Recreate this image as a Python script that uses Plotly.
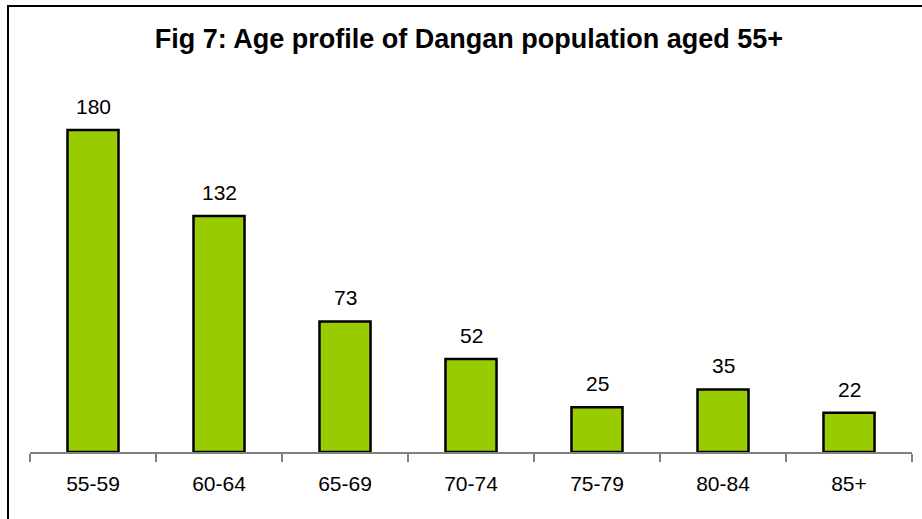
import plotly.graph_objects as go

categories = ["55-59", "60-64", "65-69", "70-74", "75-79", "80-84", "85+"]
values = [180, 132, 73, 52, 25, 35, 22]
title_text = "Fig 7: Age profile of Dangan population aged 55+"

FONT = "Liberation Sans, Arial"

fig = go.Figure()
fig.add_trace(go.Bar(
    x=categories, y=values,
    marker=dict(color="#99CC00", line=dict(color="black", width=2.5)),
    width=0.405,
    hoverinfo="skip",
))

for c, v in zip(categories, values):
    fig.add_annotation(x=c, y=v, text=str(v), showarrow=False,
                       yanchor="bottom", yshift=10,
                       font=dict(family=FONT, size=21, color="black"))

W, H = 922, 519
L, R, T, B = 30, 10, 80, 67
pw = W - L - R
ph = H - T - B

def px_x(x):
    return (x - L) / pw

def px_y(y):
    return (H - B - y) / ph

fig.add_shape(type="rect", xref="paper", yref="paper",
              x0=px_x(8), x1=px_x(930), y0=px_y(530), y1=px_y(6),
              line=dict(color="black", width=2), layer="below")

fig.update_layout(
    width=W, height=H,
    margin=dict(l=L, r=R, t=T, b=B),
    paper_bgcolor="white", plot_bgcolor="white",
    showlegend=False,
    title=dict(text="<b>" + title_text + "</b>", x=469 / W, xanchor="center",
               y=1 - 39 / H, yanchor="middle",
               font=dict(family=FONT, size=27, color="black")),
    xaxis=dict(showline=True, linecolor="#808080", linewidth=2,
               ticks="outside", tickson="boundaries", ticklen=8,
               tickcolor="#808080", tickwidth=1.5,
               ticklabelstandoff=12,
               tickfont=dict(family=FONT, size=21, color="black"),
               showgrid=False, fixedrange=True),
    yaxis=dict(range=[0, 208], visible=False, showgrid=False, fixedrange=True),
    bargap=0.595,
)

fig.write_html("out.html", config={"displayModeBar": False},
               post_script="document.body.style.margin='0';document.body.style.overflow='hidden';")
